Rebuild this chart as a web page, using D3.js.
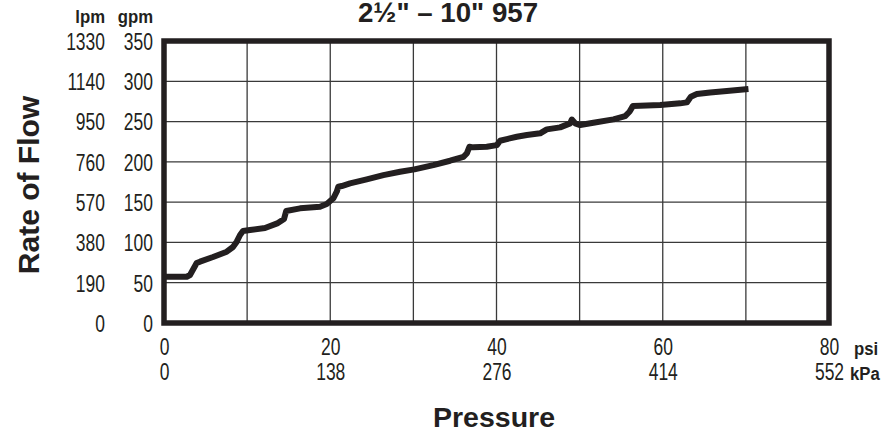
<!DOCTYPE html>
<html><head><meta charset="utf-8">
<script src="https://cdn.jsdelivr.net/npm/d3@7"></script>
<style>
html,body{margin:0;padding:0;background:#fff;}
svg{display:block;}
text{font-family:"Liberation Sans","Arial",sans-serif;fill:#231f20;}
</style></head>
<body>
<svg id="c" width="885" height="433"></svg>
<script>
const title = "2\u00BD\" \u2013 10\" 957";
const psiTicks = [0, 20, 40, 60, 80];
const kpaLabels = ["0", "138", "276", "414", "552"];
const gpmTicks = [0, 50, 100, 150, 200, 250, 300, 350];
const lpmLabels = ["0", "190", "380", "570", "760", "950", "1140", "1330"];
const psiGrid = [10, 20, 30, 40, 50, 60, 70];
const pressure = [0, 2.73, 3.13, 3.93, 4.33, 5.9, 7.55, 8.3, 8.75, 9.15, 9.5, 10.35, 12.15, 13.7, 14.44, 14.7, 16.37, 18.77, 19.58, 20.37, 20.78, 20.97, 21.38, 22.38, 24.39, 26.39, 28.4, 30.12, 32.4, 34.42, 36.02, 36.43, 36.74, 37.22, 38.83, 40.04, 40.43, 41.24, 42.44, 43.65, 45.25, 46.05, 47.65, 48.86, 49.06, 49.46, 50.06, 51.66, 54.07, 55.48, 56.0, 56.4, 57.28, 59.69, 62.09, 62.9, 63.38, 64.1, 65.7, 67.71, 70.31];
const flow = [57.4, 57.4, 59.6, 74.4, 76.1, 81.9, 88.5, 94.3, 100.9, 109.2, 114.1, 115.4, 117.9, 124, 129, 139, 142.3, 144.3, 147.6, 154.7, 162.9, 169.1, 170, 173.3, 178.3, 183.6, 187.7, 190.7, 196, 201.4, 206.3, 210.5, 218.7, 218, 218.7, 220.8, 226.2, 228.3, 231.1, 233.3, 235.4, 240.3, 242.8, 247.8, 252.5, 247.8, 245.7, 248.5, 252.7, 256.8, 262.2, 269.2, 269.6, 270.5, 272.6, 273.8, 280.8, 284.1, 286.2, 287.8, 290.3];

const svg = d3.select("#c");
const x = d3.scaleLinear().domain([0, 80]).range([164, 829]);
const y = d3.scaleLinear().domain([0, 350]).range([323, 41]);
const ink = "#231f20";
const narrow = "scale(0.76,1)";

// grid
svg.append("g").selectAll("line").data(psiGrid).join("line")
  .attr("x1", d => x(d)).attr("x2", d => x(d)).attr("y1", y(350)).attr("y2", y(0))
  .attr("stroke", "#3a3a3a").attr("stroke-width", 1.3);
svg.append("g").selectAll("line").data(gpmTicks.slice(1, -1)).join("line")
  .attr("x1", x(0)).attr("x2", x(80)).attr("y1", d => y(d)).attr("y2", d => y(d))
  .attr("stroke", "#3a3a3a").attr("stroke-width", 1.3);

// border
svg.append("rect").attr("x", x(0)).attr("y", y(350)).attr("width", x(80) - x(0)).attr("height", y(0) - y(350))
  .attr("fill", "none").attr("stroke", ink).attr("stroke-width", 5.5);

// curve
const pts = pressure.map((p, i) => [p, flow[i]]);
svg.append("path").datum(pts)
  .attr("d", d3.line().x(d => x(d[0])).y(d => y(d[1])))
  .attr("fill", "none").attr("stroke", ink).attr("stroke-width", 6)
  .attr("stroke-linejoin", "round").attr("stroke-linecap", "butt");

// y axes
const fs = "23px";
const gpmAxis = svg.append("g").attr("transform", "translate(153,0)")
  .call(d3.axisLeft(y).tickValues(gpmTicks).tickSize(0).tickPadding(0).tickFormat(d3.format("d")));
const lpmAxis = svg.append("g").attr("transform", "translate(105,0)")
  .call(d3.axisLeft(y).tickValues(gpmTicks).tickSize(0).tickPadding(0).tickFormat((d, i) => lpmLabels[i]));
[gpmAxis, lpmAxis].forEach(g => {
  g.select(".domain").remove();
  g.selectAll("text").attr("font-size", fs).attr("font-family", null).attr("fill", ink)
    .attr("x", 0).attr("dy", "0.36em").attr("transform", narrow);
});

// x axes
const psiAxis = svg.append("g").attr("transform", "translate(0,355)")
  .call(d3.axisBottom(x).tickValues(psiTicks).tickSize(0).tickPadding(0).tickFormat(d3.format("d")));
const kpaAxis = svg.append("g").attr("transform", "translate(0,380)")
  .call(d3.axisBottom(x).tickValues(psiTicks).tickSize(0).tickPadding(0).tickFormat((d, i) => kpaLabels[i]));
[psiAxis, kpaAxis].forEach(g => {
  g.select(".domain").remove();
  g.selectAll("text").attr("font-size", fs).attr("font-family", null).attr("fill", ink)
    .attr("y", 0).attr("dy", "0").attr("transform", narrow);
});

// unit labels
function unit(txt, xx, yy, anchor) {
  svg.append("text").attr("transform", `translate(${xx},${yy}) scale(0.88,1)`)
    .attr("text-anchor", anchor).attr("font-size", "19px").attr("font-weight", "bold").text(txt);
}
unit("lpm", 105, 23, "end");
unit("gpm", 153, 23, "end");
unit("psi", 854, 355, "start");
unit("kPa", 850, 380, "start");

// titles
svg.append("text").attr("x", 448).attr("y", 22).attr("text-anchor", "middle")
  .attr("font-size", "27.7px").attr("font-weight", "bold").text(title);
svg.append("text").attr("x", 494).attr("y", 427).attr("text-anchor", "middle")
  .attr("font-size", "28.5px").attr("font-weight", "bold").text("Pressure");
svg.append("text").attr("transform", "translate(39,185) rotate(-90)").attr("text-anchor", "middle")
  .attr("font-size", "30px").attr("font-weight", "bold").text("Rate of Flow");
</script>
</body></html>
